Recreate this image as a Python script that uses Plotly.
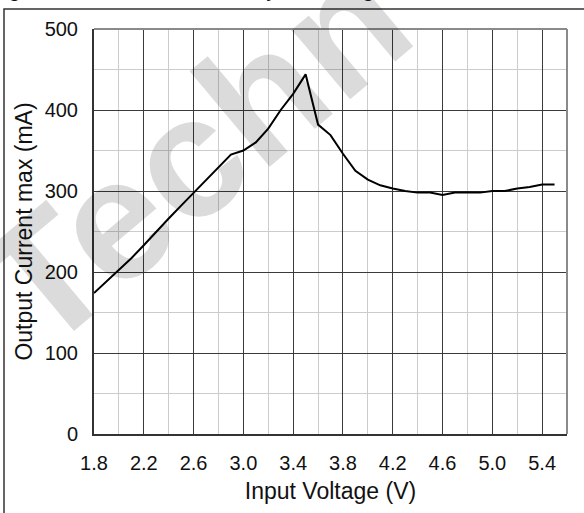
import plotly.graph_objects as go

# ---- data ----
vin = [1.8, 1.9, 2.0, 2.1, 2.2, 2.3, 2.4, 2.5, 2.6, 2.7, 2.8, 2.9, 3.0, 3.1, 3.2, 3.3,
       3.4, 3.5, 3.6, 3.7, 3.8, 3.9, 4.0, 4.1, 4.2, 4.3, 4.4, 4.5, 4.6, 4.7, 4.8, 4.9,
       5.0, 5.1, 5.2, 5.3, 5.4, 5.5]
iout = [174, 188, 202, 217, 233, 250, 266, 282, 298, 313, 330, 345, 350, 360, 377, 400,
        420, 444, 382, 369, 346, 325, 314, 307, 303, 300, 298, 298, 295, 298, 298, 298,
        300, 300, 303, 305, 308, 308]

x_ticks = [1.8, 2.2, 2.6, 3.0, 3.4, 3.8, 4.2, 4.6, 5.0, 5.4]
y_ticks = [0, 100, 200, 300, 400, 500]

x_title = "Input Voltage (V)"
y_title = "Output Current max (mA)"
fig_title = "Figure 7. Max Current Delivery vs. Voltage"
watermark = "Techn"

W, H = 584, 513
L, R, T, B = 94, 17, 29, 79
pw, ph = W - L - R, H - T - B


def px_x(p):
    return (p - L) / pw


def px_y(p):
    return (H - B - p) / ph


FONT = "Liberation Sans, Arial, sans-serif"

fig = go.Figure()
fig.add_trace(go.Scatter(x=vin, y=iout, mode="lines",
                         line=dict(color="#000000", width=2), showlegend=False))

fig.update_layout(
    width=W, height=H,
    margin=dict(l=L, r=R, t=T, b=B, pad=0),
    paper_bgcolor="white", plot_bgcolor="white",
    font=dict(family=FONT, color="#111111"),
    xaxis=dict(
        range=[1.8, 5.6], tickvals=x_ticks, ticktext=[f"{v:.1f}" for v in x_ticks],
        showgrid=True, gridcolor="#3a3a3a", gridwidth=1,
        minor=dict(tick0=1.8, dtick=0.2, showgrid=True, gridcolor="#cccccc", gridwidth=1),
        showline=True, linecolor="#333333", linewidth=2, zeroline=False,
        ticks="outside", ticklen=10, tickcolor="rgba(0,0,0,0)",
        tickfont=dict(size=20, family=FONT, color="#111111"),
        title=dict(text=x_title, font=dict(size=23, family=FONT, color="#111111"), standoff=10),
        automargin=False,
    ),
    yaxis=dict(
        range=[0, 500], tickvals=y_ticks,
        showgrid=True, gridcolor="#3a3a3a", gridwidth=1,
        minor=dict(tick0=0, dtick=50, showgrid=True, gridcolor="#cccccc", gridwidth=1),
        showline=True, linecolor="#333333", linewidth=2, zeroline=False,
        ticks="outside", ticklen=10, tickcolor="rgba(0,0,0,0)",
        tickfont=dict(size=20, family=FONT, color="#111111"),
        title=dict(text=y_title, font=dict(size=23, family=FONT, color="#111111"), standoff=6),
        automargin=False,
    ),
    shapes=[
        # top & right plot border (grey)
        dict(type="line", xref="paper", yref="paper", x0=0, x1=1, y0=1, y1=1,
             line=dict(color="#8a8a8a", width=2)),
        dict(type="line", xref="paper", yref="paper", x0=1, x1=1, y0=0, y1=1,
             line=dict(color="#8a8a8a", width=2)),
        # outer figure frame (cropped at right/bottom)
        dict(type="rect", xref="paper", yref="paper",
             x0=px_x(4), x1=px_x(600), y0=px_y(530), y1=px_y(9),
             line=dict(color="#333333", width=1.5)),
    ],
    annotations=[
        dict(text=watermark, xref="paper", yref="paper", x=px_x(194), y=px_y(152),
             xanchor="center", yanchor="middle", showarrow=False, textangle=-40,
             font=dict(size=172, family=FONT, color="rgba(0,0,0,0.14)", weight="bold")),
        dict(text=fig_title, xref="paper", yref="paper", x=px_x(-11), y=px_y(3),
             xanchor="left", yanchor="bottom", showarrow=False,
             font=dict(size=21, family=FONT, color="#111111")),
    ],
)

fig.write_html("out.html", config={"displayModeBar": False},
               post_script="document.body.style.margin='0';")
